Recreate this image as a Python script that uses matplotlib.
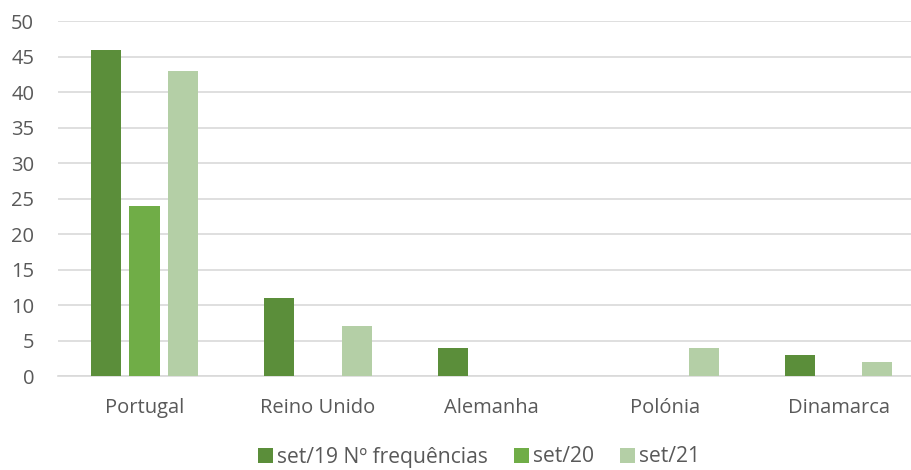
import matplotlib
matplotlib.use("Agg")
import matplotlib.pyplot as plt
import numpy as np

categories = ["Portugal", "Reino Unido", "Alemanha", "Polónia", "Dinamarca"]
series_names = ["set/19 Nº frequências", "set/20", "set/21"]
set19 = [46, 11, 4, 0, 3]
set20 = [24, 0, 0, 0, 0]
set21 = [43, 7, 0, 4, 2]
yticks = [0, 5, 10, 15, 20, 25, 30, 35, 40, 45, 50]

colors = ["#5B8E3A", "#70AD47", "#B4CFA6"]
text_color = "#595959"

plt.rcParams['font.family'] = ['Open Sans', 'DejaVu Sans']
fs = 14.5

fig = plt.figure(figsize=(9.12, 4.70), dpi=100)
# plot area extends slightly past the right edge of the picture
ax = fig.add_axes([57.75 / 912, 0.2, 867.5 / 912, 0.755])

x = np.arange(len(categories))
w = 0.173
step = 0.222
for i, (vals, name, c) in enumerate(zip([set19, set20, set21], series_names, colors)):
    ax.bar(x + (i - 1) * step, vals, width=w, color=c, label=name, zorder=3)

ax.set_xlim(-0.5, len(categories) - 0.5)
ax.set_ylim(0, 50)
ax.set_yticks(yticks)
ax.set_xticks(x)
ax.set_xticklabels(categories)
ax.yaxis.grid(True, color="#D9D9D9", linewidth=1.2, zorder=0)
for s in ["top", "right", "left"]:
    ax.spines[s].set_visible(False)
ax.spines["bottom"].set_color("#D9D9D9")
ax.spines["bottom"].set_linewidth(1.2)
ax.tick_params(axis="both", length=0, labelsize=fs, colors=text_color)
ax.tick_params(axis="x", pad=16)
ax.tick_params(axis="y", pad=17)

fig.legend(loc="center", bbox_to_anchor=(479 / 912, 13 / 470), ncol=3, frameon=False,
           fontsize=15.2, labelcolor=text_color, handlelength=0.72, handleheight=0.72,
           handletextpad=0.2, columnspacing=1.2, borderpad=0, borderaxespad=0)

fig.savefig("out.png", dpi=100)
